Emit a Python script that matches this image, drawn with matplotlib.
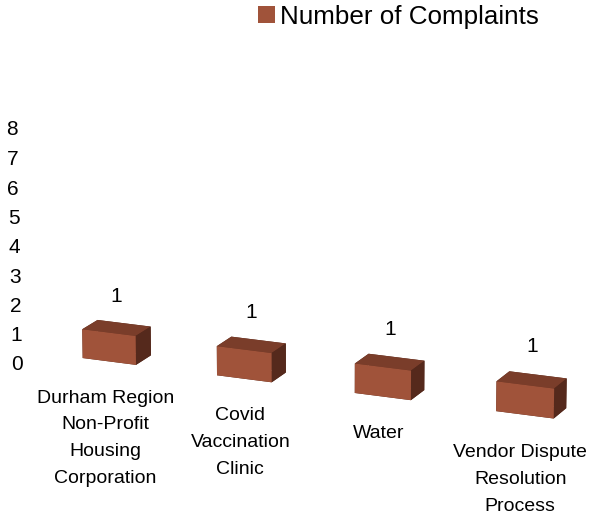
import numpy as np
import matplotlib.pyplot as plt
from matplotlib.patches import Patch

# chart data
categories = ["Durham Region\nNon-Profit\nHousing\nCorporation",
              "Covid\nVaccination\nClinic",
              "Water",
              "Vendor Dispute\nResolution\nProcess"]
complaints = [1, 1, 1, 1]
z_ticks = [0, 1, 2, 3, 4, 5, 6, 7, 8]
series_name = "Number of Complaints"

plt.rcParams['font.family'] = ['Liberation Sans', 'DejaVu Sans']

FRONT = '#A0533A'
TOP = '#7A3D2A'
SIDE = '#55291C'

fig = plt.figure(figsize=(5.92, 5.12), dpi=100)
ax = fig.add_axes([0.029, -0.031, 1, 1], projection='3d')
ax.set_proj_type('persp', focal_length=1.6)
ax.view_init(elev=16, azim=-67)

n = len(categories)
x = np.arange(n)
w, d = 0.4, 0.24

# one colour per face: bottom, top, front, back, left, right
face_colors = []
for _ in range(n):
    face_colors += [SIDE, TOP, FRONT, SIDE, SIDE, SIDE]

ax.bar3d(x - w / 2, np.zeros(n), np.zeros(n), w, d, complaints,
         color=face_colors, shade=False, edgecolor='none')

ax.set_xlim(-0.5, n - 0.5)
ax.set_ylim(0, d)
ax.set_zlim(0, max(z_ticks))
ax.set_box_aspect((588, 35, 240), zoom=1.24)
ax.set_axis_off()

# value axis labels
for z in z_ticks:
    ax.text(-0.55, -0.3, z, str(z), fontsize=15, ha='center', va='center')

# data labels
for xi, v in zip(x, complaints):
    ax.text(xi, d / 2, v + 1.1, str(v), fontsize=15, ha='center', va='center')

# category labels
for xi, lab in zip(x, categories):
    ax.text(xi - 0.03, 0, -1.0, lab, fontsize=14, ha='center', va='top',
            linespacing=1.75)

fig.legend(handles=[Patch(facecolor=FRONT, label=series_name)],
           loc='upper center', bbox_to_anchor=(0.673, 1.036), frameon=False,
           fontsize=18.7, handlelength=0.65, handleheight=0.65,
           handletextpad=0.2)

fig.savefig('out.png', dpi=100)
